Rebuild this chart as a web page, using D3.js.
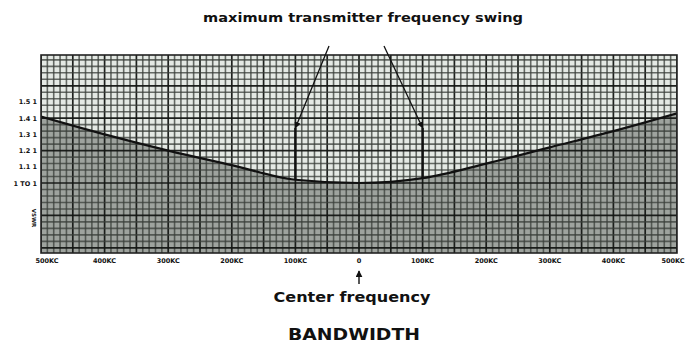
<!DOCTYPE html>
<html>
<head>
<meta charset="utf-8">
<script src="https://cdn.jsdelivr.net/npm/d3@7"></script>
<style>
  html, body { margin: 0; padding: 0; background: #fff; }
  svg { display: block; }
  text { font-family: "DejaVu Sans", "Liberation Sans", sans-serif; font-weight: bold; fill: #111; }
</style>
</head>
<body>
<svg id="chart" width="697" height="343"></svg>
<script>
// Frequency offset from carrier (kc) and measured VSWR at each point
const freqKC = [-500, -400, -300, -200, -100, 0, 100, 200, 300, 400, 500];
const vswr   = [1.41, 1.30, 1.20, 1.11, 1.02, 1.00, 1.03, 1.12, 1.22, 1.32, 1.43];

// Axis labels
const xTickValues = [-500, -400, -300, -200, -100, 0, 100, 200, 300, 400, 500];
const xTickLabels = ["500KC", "400KC", "300KC", "200KC", "100KC", "0", "100KC", "200KC", "300KC", "400KC", "500KC"];
const yTickValues = [1.5, 1.4, 1.3, 1.2, 1.1, 1.0];
const yTickLabels = ["1.5 1", "1.4 1", "1.3 1", "1.2 1", "1.1 1", "1 TO 1"];

// Swing markers at +/-100 kc, annotation arrows end at this VSWR level
const swingKC = [-100, 100];
const swingArrowLevel = 1.34;

const svg = d3.select("#chart");
const plot = { left: 41, right: 677, top: 55, bottom: 253 };

const x = d3.scaleLinear().domain([-500, 500]).range([plot.left, plot.right]);
const y = d3.scaleLinear().domain([0.568, 1.790]).range([plot.bottom, plot.top]);

// Graph-paper background
svg.append("rect")
  .attr("x", plot.left).attr("y", plot.top)
  .attr("width", plot.right - plot.left).attr("height", plot.bottom - plot.top)
  .attr("fill", "#e4e9e4");

svg.append("clipPath").attr("id", "plotclip")
  .append("rect")
  .attr("x", plot.left).attr("y", plot.top)
  .attr("width", plot.right - plot.left).attr("height", plot.bottom - plot.top);

const g = svg.append("g").attr("clip-path", "url(#plotclip)");

// Shaded region below the VSWR curve
const pts = freqKC.map((f, i) => [f, vswr[i]]);
const area = d3.area()
  .x(d => x(d[0]))
  .y0(plot.bottom)
  .y1(d => y(d[1]))
  .curve(d3.curveMonotoneX);
g.append("path").datum(pts).attr("d", area).attr("fill", "#6f756f").attr("opacity", 0.6);

// Vertical grid: every 10 kc, heavier every 50 kc
const vLines = d3.range(-500, 501, 10);
g.selectAll("line.v").data(vLines).join("line")
  .attr("x1", d => x(d)).attr("x2", d => x(d))
  .attr("y1", plot.top).attr("y2", plot.bottom)
  .attr("stroke", d => d % 50 === 0 ? "#141714" : "#3a3f3a")
  .attr("stroke-width", d => d % 50 === 0 ? 1.7 : 1.6)
  .attr("opacity", d => d % 50 === 0 ? 0.95 : 0.75);

// Horizontal grid: every 0.04, heavier every 0.2 from unity
const hLines = d3.range(-11, 20).map(k => +(1 + k * 0.04).toFixed(2));
g.selectAll("line.h").data(hLines).join("line")
  .attr("x1", plot.left).attr("x2", plot.right)
  .attr("y1", d => y(d)).attr("y2", d => y(d))
  .attr("stroke", (d, i) => (i - 11) % 5 === 0 ? "#141714" : "#3a3f3a")
  .attr("stroke-width", (d, i) => (i - 11) % 5 === 0 ? 1.7 : 1.6)
  .attr("opacity", (d, i) => (i - 11) % 5 === 0 ? 0.95 : 0.75);

// VSWR curve
const line = d3.line().x(d => x(d[0])).y(d => y(d[1])).curve(d3.curveMonotoneX);
g.append("path").datum(pts).attr("d", line)
  .attr("fill", "none").attr("stroke", "#111").attr("stroke-width", 2.2);

// Frame
svg.append("rect")
  .attr("x", plot.left).attr("y", plot.top)
  .attr("width", plot.right - plot.left).attr("height", plot.bottom - plot.top)
  .attr("fill", "none").attr("stroke", "#222").attr("stroke-width", 1.6);

// Swing markers: vertical lines from the arrow tip down to the curve
const curveAt = f => vswr[freqKC.indexOf(f)];
svg.selectAll("line.swing").data(swingKC).join("line")
  .attr("x1", d => x(d)).attr("x2", d => x(d))
  .attr("y1", y(swingArrowLevel)).attr("y2", d => y(curveAt(d)))
  .attr("stroke", "#111").attr("stroke-width", 2.4);

// Arrowhead marker
const defs = svg.append("defs");
defs.append("marker")
  .attr("id", "arrow").attr("viewBox", "0 0 10 10")
  .attr("refX", 9).attr("refY", 5)
  .attr("markerWidth", 5).attr("markerHeight", 5)
  .attr("orient", "auto")
  .append("path").attr("d", "M0,0 L10,5 L0,10 z").attr("fill", "#111");

// Annotation arrows from the title down to the swing limits
const arrowStarts = [329, 384];
svg.selectAll("line.ann").data(swingKC).join("line")
  .attr("x1", (d, i) => arrowStarts[i]).attr("y1", 46)
  .attr("x2", d => x(d)).attr("y2", y(swingArrowLevel))
  .attr("stroke", "#111").attr("stroke-width", 1.3)
  .attr("marker-end", "url(#arrow)");

// Title
svg.append("text")
  .attr("x", 363).attr("y", 22)
  .attr("text-anchor", "middle")
  .attr("font-size", 13)
  .attr("textLength", 320).attr("lengthAdjust", "spacingAndGlyphs")
  .text("maximum transmitter frequency swing");

// X tick labels
svg.selectAll("text.xt").data(xTickValues).join("text")
  .attr("x", d => x(d) + (d === -500 ? 6 : d === 500 ? -4 : 0))
  .attr("y", 263)
  .attr("text-anchor", "middle")
  .attr("font-size", 6.5)
  .text((d, i) => xTickLabels[i]);

// Y tick labels
svg.selectAll("text.yt").data(yTickValues).join("text")
  .attr("x", 37).attr("y", d => y(d) + 2.5)
  .attr("text-anchor", "end")
  .attr("font-size", 6.5)
  .text((d, i) => yTickLabels[i]);

// Rotated axis name
svg.append("text")
  .attr("transform", "translate(32,218) rotate(90)")
  .attr("text-anchor", "middle")
  .attr("font-size", 5.5)
  .text("VSWR");

// Centre-frequency arrow
svg.append("line")
  .attr("x1", x(0)).attr("x2", x(0))
  .attr("y1", 284).attr("y2", 271)
  .attr("stroke", "#111").attr("stroke-width", 1.4)
  .attr("marker-end", "url(#arrow)");

svg.append("text")
  .attr("x", 352).attr("y", 302)
  .attr("text-anchor", "middle")
  .attr("font-size", 14)
  .attr("textLength", 157).attr("lengthAdjust", "spacingAndGlyphs")
  .text("Center frequency");

svg.append("text")
  .attr("x", 354).attr("y", 340)
  .attr("text-anchor", "middle")
  .attr("font-size", 16)
  .attr("textLength", 132).attr("lengthAdjust", "spacingAndGlyphs")
  .text("BANDWIDTH");
</script>
</body>
</html>
